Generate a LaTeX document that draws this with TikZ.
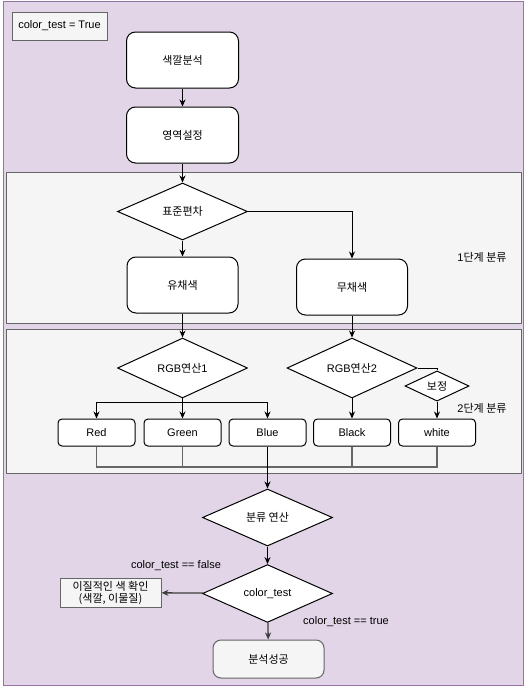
\documentclass[tikz,border=0pt]{standalone}
\usepackage{fontspec}
\setmainfont{Liberation Sans}
\newfontfamily\kr{Noto Sans CJK KR}
\usetikzlibrary{arrows.meta,shapes.geometric}
\definecolor{lilac}{HTML}{E1D5E7}
\definecolor{lilacline}{HTML}{9673A6}
\definecolor{panel}{HTML}{F5F5F5}
\definecolor{panelline}{HTML}{666666}
\begin{document}
\begin{tikzpicture}[x=1pt,y=-1pt,line width=1pt,>={Stealth[length=7pt,width=6pt]},
  every node/.style={font=\fontsize{11}{13}\selectfont,inner sep=0pt,align=center},
  bigbox/.style={draw,fill=white,rounded corners=9pt,minimum width=112pt,minimum height=56pt},
  smallbox/.style={draw,fill=white,rounded corners=4pt,minimum width=77pt,minimum height=27pt},
  decide/.style={draw,fill=white,diamond,minimum width=130pt,minimum height=57pt}]
\useasboundingbox (0,0) rectangle (527,691);
%\draw[thin,dotted] (0,0) grid[step=50pt] (527,691);
\draw[lilacline,fill=lilac] (3,1) rectangle (523,685);
\draw[panelline,fill=panel] (6,172) rectangle (521,323);
\draw[panelline,fill=panel] (6,329) rectangle (521,473);
\node[draw=panelline,fill=panel,minimum width=95pt,minimum height=28pt] (flag) at (59.5,26) {color\_test = True};
% top
\node[bigbox] (color) at (182.5,60) {\kr 색깔분석};
\node[bigbox] (area) at (182.5,135) {\kr 영역설정};
% step 1
\node[decide] (stdev) at (182.5,211.5) {\kr 표준편차};
\node[bigbox,minimum width=111pt] (chroma) at (182.5,285) {\kr 유채색};
\node[bigbox,minimum width=111pt] (achroma) at (352,287) {\kr 무채색};
\node (lvl1) at (482,257) {1{\kr 단계 분류}};
% step 2
\node[decide] (rgb1) at (182.5,368) {RGB{\kr 연산}1};
\node[decide] (rgb2) at (352,368) {RGB{\kr 연산}2};
\node[draw,fill=white,diamond,minimum width=64pt,minimum height=26pt] (fix) at (437,386) {\kr 보정};
\node (lvl2) at (482,408) {2{\kr 단계 분류}};
\node[smallbox] (red) at (96.5,432.5) {Red};
\node[smallbox] (green) at (182.5,432.5) {Green};
\node[smallbox] (blue) at (267.5,432.5) {Blue};
\node[smallbox] (black) at (352,432.5) {Black};
\node[smallbox] (white) at (437,432.5) {white};
% bottom
\node[decide] (sort) at (267.5,517.5) {\kr 분류 연산};
\node[decide] (test) at (267.5,593.5) {color\_test};
\node[draw=panelline,fill=panel,minimum width=101pt,minimum height=29pt,
  font=\fontsize{11}{12}\selectfont\kr] (odd) at (110.5,592.5) {이질적인 색 확인\\(색깔, 이물질)};
\node[draw=panelline,fill=panel,rounded corners=8pt,minimum width=111pt,minimum height=38pt] (done) at (268.5,659) {\kr 분석성공};
\node (nofalse) at (176,566) {color\_test == false};
\node (notrue) at (346,622) {color\_test == true};
\coordinate (join) at (267.5,467);
% arrows
\draw[->] (color) -- (area);
\draw[->] (area) -- (stdev);
\draw[->] (stdev) -- (chroma);
\draw[->] (stdev.east) -| (achroma.north);
\draw[->] (chroma) -- (rgb1);
\draw[->] (achroma) -- (rgb2);
\draw[->,line width=1.5pt] (rgb1) -- (green);
\draw[->] (rgb1.south) -- ++(0,4) -| (red.north);
\draw[->] (rgb1.south) -- ++(0,4) -| (blue.north);
\draw[->] (rgb2) -- (black);
\draw (rgb2.east) -| (fix.north);
\draw[->] (fix) -- (white);
\draw[panelline,line width=1.3pt] (red.south) |- (join) -| (green.south);
\draw[panelline,line width=1.3pt] (white.south) |- (join) -| (black.south);
\draw[->,line width=1.6pt] (blue) -- (sort);
\draw[->,line width=1.6pt] (sort) -- (test);
\draw[->,panelline!60!black,line width=1.3pt] (test) -- (odd);
\draw[->,panelline!60!black,line width=1.3pt] (test) -- (done);
\end{tikzpicture}
\end{document}
